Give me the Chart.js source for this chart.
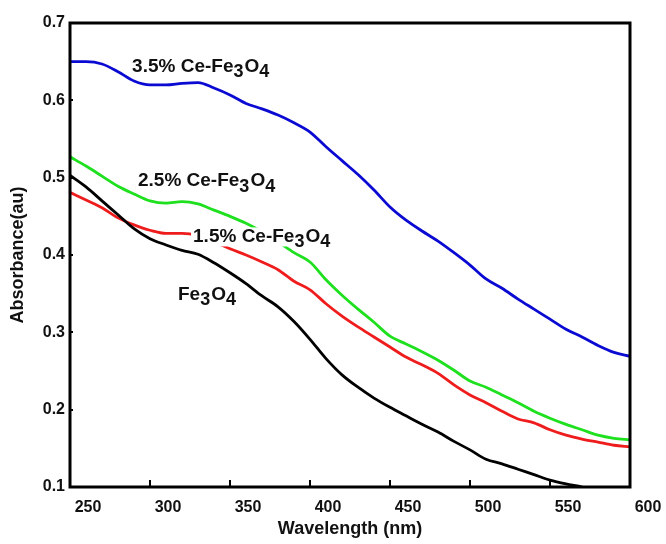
<!DOCTYPE html>
<html>
<head>
<meta charset="utf-8">
<script src="https://cdn.jsdelivr.net/npm/chart.js@4/dist/chart.umd.min.js"></script>
<style>
  html, body { margin: 0; padding: 0; background: #fff; }
  #wrap { width: 666px; height: 544px; }
</style>
</head>
<body>
<div id="wrap"><canvas id="uvChart" width="666" height="544"></canvas></div>
<script>
'use strict';

// wavelength grid (nm), every 10 nm
var wavelength = [250, 260, 270, 280, 290, 300, 310, 320, 330, 340, 350, 360,
	370, 380, 390, 400, 410, 420, 430, 440, 450, 460, 470, 480,
	490, 500, 510, 520, 530, 540, 550, 560, 570, 580, 590, 600];

var absFe3O4 = [0.503, 0.488, 0.470, 0.452, 0.434, 0.421, 0.413, 0.406, 0.401, 0.390, 0.377, 0.363,
	0.347, 0.333, 0.314, 0.291, 0.266, 0.245, 0.229, 0.215, 0.203, 0.192, 0.181, 0.171,
	0.159, 0.148, 0.136, 0.130, 0.123, 0.116, 0.109, 0.104, 0.100, 0.095, 0.090, 0.084];

var abs15Ce = [0.481, 0.471, 0.461, 0.448, 0.439, 0.432, 0.428, 0.428, 0.425, 0.417, 0.408, 0.400,
	0.391, 0.381, 0.366, 0.355, 0.337, 0.321, 0.307, 0.294, 0.281, 0.268, 0.258, 0.247,
	0.232, 0.219, 0.209, 0.198, 0.188, 0.183, 0.174, 0.167, 0.162, 0.158, 0.154, 0.152];

var abs25Ce = [0.527, 0.515, 0.502, 0.489, 0.479, 0.470, 0.467, 0.469, 0.466, 0.458, 0.450, 0.441,
	0.430, 0.417, 0.403, 0.391, 0.368, 0.348, 0.330, 0.313, 0.295, 0.285, 0.275, 0.264,
	0.251, 0.237, 0.229, 0.219, 0.209, 0.198, 0.189, 0.181, 0.174, 0.167, 0.163, 0.161];

var abs35Ce = [0.650, 0.650, 0.647, 0.637, 0.625, 0.620, 0.620, 0.622, 0.623, 0.616, 0.607, 0.596,
	0.589, 0.581, 0.571, 0.559, 0.540, 0.522, 0.504, 0.484, 0.462, 0.445, 0.431, 0.418,
	0.403, 0.387, 0.369, 0.357, 0.343, 0.330, 0.317, 0.304, 0.294, 0.283, 0.274, 0.269];

var xTicks = [250, 300, 350, 400, 450, 500, 550, 600];
var yTicks = [0.1, 0.2, 0.3, 0.4, 0.5, 0.6, 0.7];

// curve labels: [main text, subscript, main, subscript], anchored in data units (left edge, middle)
var curveLabels = [
	{ parts: ['3.5% Ce-Fe', '3', 'O', '4'], x: 288.8, y: 0.644 },
	{ parts: ['2.5% Ce-Fe', '3', 'O', '4'], x: 292.5, y: 0.496 },
	{ parts: ['1.5% Ce-Fe', '3', 'O', '4'], x: 326.9, y: 0.424 },
	{ parts: ['Fe', '3', 'O', '4'], x: 317.5, y: 0.349 }
];

var FONT = '"Liberation Sans", Arial, sans-serif';

function toPoints(ys) {
	return wavelength.map(function(w, i) { return { x: w, y: ys[i] }; });
}

// frame around the plot
var frameBox = {
	id: 'frameBox',
	afterDatasetsDraw: function(chart) {
		var a = chart.chartArea, ctx = chart.ctx;
		ctx.save();
		ctx.strokeStyle = '#000';
		ctx.lineWidth = 3;
		ctx.strokeRect(a.left, a.top, a.right - a.left, a.bottom - a.top);
		ctx.restore();
	}
};

// curve names with subscripts, white box behind like the original
var curveNames = {
	id: 'curveNames',
	afterDatasetsDraw: function(chart) {
		var ctx = chart.ctx, xs = chart.scales.x, ys = chart.scales.y;
		var big = 'bold 19px ' + FONT, small = 'bold 18px ' + FONT;
		ctx.save();
		ctx.textBaseline = 'middle';
		curveLabels.forEach(function(lab) {
			var px = xs.getPixelForValue(lab.x), py = ys.getPixelForValue(lab.y);
			var widths = lab.parts.map(function(p, i) {
				ctx.font = (i % 2 === 1) ? small : big;
				return ctx.measureText(p).width + (i % 2 === 1 ? 1 : 0);
			});
			var total = widths.reduce(function(s, w) { return s + w; }, 0);
			ctx.fillStyle = '#fff';
			ctx.fillRect(px - 2, py - 9, total + 4, 19);
			ctx.fillStyle = '#111';
			var cx = px;
			lab.parts.forEach(function(p, i) {
				ctx.font = (i % 2 === 1) ? small : big;
				ctx.fillText(p, cx, (i % 2 === 1) ? py + 6 : py);
				cx += widths[i];
			});
		});
		ctx.restore();
	}
};

function drawChart() {
	var ctx = document.getElementById('uvChart');
	new Chart(ctx, {
		type: 'line',
		data: {
			datasets: [
				{ label: 'Fe3O4', data: toPoints(absFe3O4), borderColor: '#000000' },
				{ label: '1.5% Ce-Fe3O4', data: toPoints(abs15Ce), borderColor: '#ee1c1c' },
				{ label: '2.5% Ce-Fe3O4', data: toPoints(abs25Ce), borderColor: '#1ee01e' },
				{ label: '3.5% Ce-Fe3O4', data: toPoints(abs35Ce), borderColor: '#0a0ad2' }
			]
		},
		options: {
			responsive: false,
			animation: false,
			datasets: { line: { borderWidth: 2.8, pointRadius: 0, tension: 0.4, cubicInterpolationMode: 'monotone', fill: false } },
			layout: { padding: { top: 23, right: 36, left: 0, bottom: 0 } },
			plugins: { legend: { display: false }, tooltip: { enabled: false } },
			scales: {
				x: {
					type: 'linear', min: 250, max: 600,
					afterBuildTicks: function(s) { s.ticks = xTicks.map(function(v) { return { value: v }; }); },
					afterFit: function(s) { s.height = 57; },
					border: { display: false },
					grid: { drawOnChartArea: false, drawTicks: true, tickLength: -7, color: '#000', lineWidth: 2 },
					ticks: { autoSkip: false, maxRotation: 0, labelOffset: 18, padding: 18, color: '#111',
						font: { family: FONT, size: 16, weight: 'bold' } },
					title: { display: true, text: 'Wavelength (nm)', color: '#111',
						font: { family: FONT, size: 18, weight: 'bold' }, padding: { top: 0, bottom: 4 } }
				},
				y: {
					min: 0.1, max: 0.7,
					afterBuildTicks: function(s) { s.ticks = yTicks.map(function(v) { return { value: v }; }); },
					afterFit: function(s) { s.width = 70; },
					border: { display: false },
					grid: { drawOnChartArea: false, drawTicks: true, tickLength: -3, color: '#000', lineWidth: 2 },
					ticks: { autoSkip: false, padding: 8, color: '#111',
						callback: function(v) { return v.toFixed(1); },
						font: { family: FONT, size: 16, weight: 'bold' } },
					title: { display: true, text: 'Absorbance(au)', color: '#111',
						font: { family: FONT, size: 18, weight: 'bold' }, padding: { top: 7, bottom: 0 } }
				}
			}
		},
		plugins: [frameBox, curveNames]
	});
}

drawChart();
</script>
</body>
</html>
